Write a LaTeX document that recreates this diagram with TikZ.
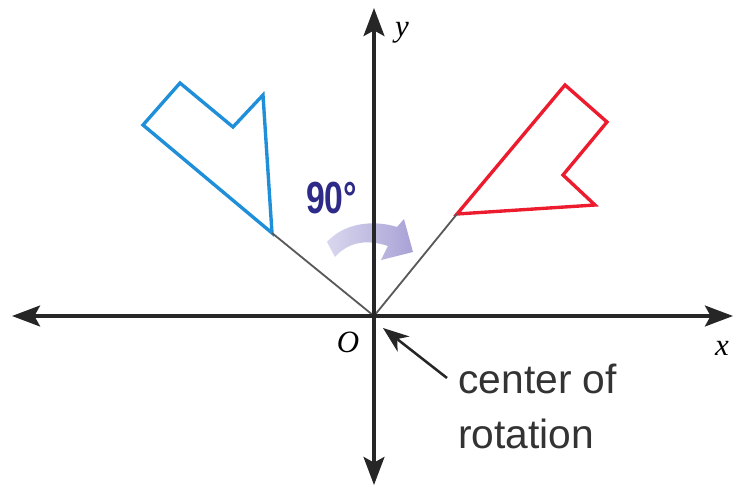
\documentclass[tikz,border=0pt]{standalone}
\usepackage{fontspec}
\newfontfamily\textosans{Liberation Sans}
\newfontfamily\textoserif{Liberation Serif}
\usetikzlibrary{arrows.meta}
\definecolor{figazul}{HTML}{1E8FD8}
\definecolor{figrojo}{HTML}{EC1C2E}
\definecolor{giroazul}{HTML}{2D2A88}
\definecolor{giroclaro}{HTML}{D9D7EE}
\definecolor{girooscuro}{HTML}{A8A2D6}
\tikzset{
    eje/.style={line width=2.6pt, black!85,
        {Stealth[length=0.7cm,width=0.52cm,inset=0.14cm]}-{Stealth[length=0.7cm,width=0.52cm,inset=0.14cm]}},
    radio/.style={black!65, line width=1.3pt},
    figura/.style={line width=2.4pt, line join=miter},
    etiqueta/.style={font=\textoserif\itshape\fontsize{22}{26}\selectfont, inner sep=0pt},
}
\begin{document}
\begin{tikzpicture}
    \useasboundingbox (-9.35,-4.275) rectangle (9.0,7.9);

    % Flecha curva del giro
    \shade[left color=giroclaro, right color=girooscuro]
        (-1.175,1.85) .. controls (-0.725,2.35) and (0.025,2.4) .. (0.575,2.225)
        -- (0.75,2.425) -- (0.975,1.6) -- (0.175,1.4) -- (0.35,1.75)
        .. controls (-0.1,1.9) and (-0.6,1.9) .. (-0.975,1.475) -- cycle;
    \node[text=giroazul, font=\textosans\bfseries\fontsize{32}{36}\selectfont, inner sep=0pt] (angulo)
        at (-1.06,2.94) {\scalebox{0.75}[1]{90°}};

    % Figura original
    \coordinate (O) at (0,0);
    \draw[figura, figazul] (-5.775,4.775) -- (-4.85,5.825) -- (-3.525,4.725)
        -- (-2.775,5.525) -- (-2.55,2.075) -- cycle;
    \coordinate (A) at (-2.55,2.075);

    % Imagen girada 90 grados
    \begin{scope}[rotate=-90]
        \draw[figura, figrojo] (-5.775,4.775) -- (-4.85,5.825) -- (-3.525,4.725)
            -- (-2.775,5.525) -- (-2.55,2.075) -- cycle;
        \coordinate (Ar) at (-2.55,2.075);
    \end{scope}
    \draw[radio] (O) -- (A);
    \draw[radio] (O) -- (Ar);

    % Ejes
    \coordinate (xmin) at (-9.05,0);
    \coordinate (xmax) at (8.975,0);
    \coordinate (ymin) at (0,-4.225);
    \coordinate (ymax) at (0,7.7);
    \draw[eje] (xmin) -- (xmax);
    \draw[eje] (ymin) -- (ymax);
    \node[etiqueta] (lx) at (8.7,-0.8) {x};
    \node[etiqueta] (ly) at (0.7,7.075) {y};
    \node[etiqueta] (lO) at (-0.65,-0.65) {O};

    % Centro de rotacion
    \node[font=\textosans\fontsize{29}{39}\selectfont, text=black!80, align=left,
        anchor=north west, inner sep=0pt] (centro) at (2.1,-1.2) {center of\\rotation};
    \coordinate (flechaini) at (1.825,-1.55);
    \coordinate (flechafin) at (0.225,-0.3);
    \draw[line width=1.8pt, black!85, -{Stealth[length=0.65cm,width=0.48cm,inset=0.2cm]}]
        (flechaini) -- (flechafin);
\end{tikzpicture}
\end{document}
